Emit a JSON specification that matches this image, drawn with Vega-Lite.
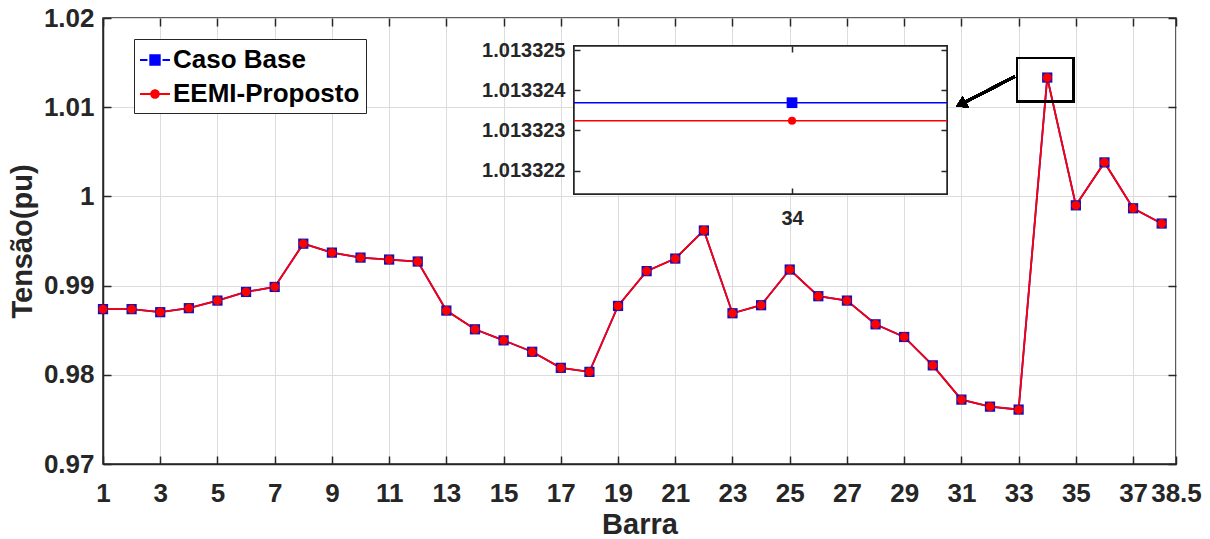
{
  "$schema": "https://vega.github.io/schema/vega-lite/v6.json",
  "width": 1073,
  "height": 446,
  "autosize": {"type": "none"},
  "padding": {"left": 103, "top": 18, "right": 34, "bottom": 75},
  "background": "white",
  "config": {
    "font": "Liberation Sans",
    "view": {"stroke": "#262626", "strokeWidth": 1.5},
    "axis": {
      "labelFont": "Liberation Sans",
      "labelFontWeight": "bold",
      "labelColor": "#262626",
      "titleFont": "Liberation Sans",
      "titleFontWeight": "bold",
      "titleColor": "#262626",
      "domainColor": "#262626",
      "domainWidth": 1.5,
      "tickColor": "#262626",
      "tickWidth": 1.5,
      "gridColor": "#dcdcdc",
      "gridWidth": 1,
      "labelOverlap": false,
      "labelFlush": false,
      "labelBound": false
    }
  },
  "datasets": {
    "t": [
      {"barra": 1, "serie": "Caso Base", "v": 0.98736},
      {"barra": 2, "serie": "Caso Base", "v": 0.98736},
      {"barra": 3, "serie": "Caso Base", "v": 0.98702},
      {"barra": 4, "serie": "Caso Base", "v": 0.98747},
      {"barra": 5, "serie": "Caso Base", "v": 0.98832},
      {"barra": 6, "serie": "Caso Base", "v": 0.98929},
      {"barra": 7, "serie": "Caso Base", "v": 0.98985},
      {"barra": 8, "serie": "Caso Base", "v": 0.9947},
      {"barra": 9, "serie": "Caso Base", "v": 0.9937},
      {"barra": 10, "serie": "Caso Base", "v": 0.99314},
      {"barra": 11, "serie": "Caso Base", "v": 0.99292},
      {"barra": 12, "serie": "Caso Base", "v": 0.9927},
      {"barra": 13, "serie": "Caso Base", "v": 0.9872},
      {"barra": 14, "serie": "Caso Base", "v": 0.9851},
      {"barra": 15, "serie": "Caso Base", "v": 0.98386},
      {"barra": 16, "serie": "Caso Base", "v": 0.98258},
      {"barra": 17, "serie": "Caso Base", "v": 0.98078},
      {"barra": 18, "serie": "Caso Base", "v": 0.98033},
      {"barra": 19, "serie": "Caso Base", "v": 0.98772},
      {"barra": 20, "serie": "Caso Base", "v": 0.99162},
      {"barra": 21, "serie": "Caso Base", "v": 0.99303},
      {"barra": 22, "serie": "Caso Base", "v": 0.99618},
      {"barra": 23, "serie": "Caso Base", "v": 0.9869},
      {"barra": 24, "serie": "Caso Base", "v": 0.9878},
      {"barra": 25, "serie": "Caso Base", "v": 0.9918},
      {"barra": 26, "serie": "Caso Base", "v": 0.98881},
      {"barra": 27, "serie": "Caso Base", "v": 0.98832},
      {"barra": 28, "serie": "Caso Base", "v": 0.98566},
      {"barra": 29, "serie": "Caso Base", "v": 0.98424},
      {"barra": 30, "serie": "Caso Base", "v": 0.98106},
      {"barra": 31, "serie": "Caso Base", "v": 0.97722},
      {"barra": 32, "serie": "Caso Base", "v": 0.97643},
      {"barra": 33, "serie": "Caso Base", "v": 0.9761},
      {"barra": 34, "serie": "Caso Base", "v": 1.01332369},
      {"barra": 35, "serie": "Caso Base", "v": 0.999},
      {"barra": 36, "serie": "Caso Base", "v": 1.00381},
      {"barra": 37, "serie": "Caso Base", "v": 0.99867},
      {"barra": 38, "serie": "Caso Base", "v": 0.99696},
      {"barra": 1, "serie": "EEMI-Proposto", "v": 0.98736},
      {"barra": 2, "serie": "EEMI-Proposto", "v": 0.98736},
      {"barra": 3, "serie": "EEMI-Proposto", "v": 0.98702},
      {"barra": 4, "serie": "EEMI-Proposto", "v": 0.98747},
      {"barra": 5, "serie": "EEMI-Proposto", "v": 0.98832},
      {"barra": 6, "serie": "EEMI-Proposto", "v": 0.98929},
      {"barra": 7, "serie": "EEMI-Proposto", "v": 0.98985},
      {"barra": 8, "serie": "EEMI-Proposto", "v": 0.9947},
      {"barra": 9, "serie": "EEMI-Proposto", "v": 0.9937},
      {"barra": 10, "serie": "EEMI-Proposto", "v": 0.99314},
      {"barra": 11, "serie": "EEMI-Proposto", "v": 0.99292},
      {"barra": 12, "serie": "EEMI-Proposto", "v": 0.9927},
      {"barra": 13, "serie": "EEMI-Proposto", "v": 0.9872},
      {"barra": 14, "serie": "EEMI-Proposto", "v": 0.9851},
      {"barra": 15, "serie": "EEMI-Proposto", "v": 0.98386},
      {"barra": 16, "serie": "EEMI-Proposto", "v": 0.98258},
      {"barra": 17, "serie": "EEMI-Proposto", "v": 0.98078},
      {"barra": 18, "serie": "EEMI-Proposto", "v": 0.98033},
      {"barra": 19, "serie": "EEMI-Proposto", "v": 0.98772},
      {"barra": 20, "serie": "EEMI-Proposto", "v": 0.99162},
      {"barra": 21, "serie": "EEMI-Proposto", "v": 0.99303},
      {"barra": 22, "serie": "EEMI-Proposto", "v": 0.99618},
      {"barra": 23, "serie": "EEMI-Proposto", "v": 0.9869},
      {"barra": 24, "serie": "EEMI-Proposto", "v": 0.9878},
      {"barra": 25, "serie": "EEMI-Proposto", "v": 0.9918},
      {"barra": 26, "serie": "EEMI-Proposto", "v": 0.98881},
      {"barra": 27, "serie": "EEMI-Proposto", "v": 0.98832},
      {"barra": 28, "serie": "EEMI-Proposto", "v": 0.98566},
      {"barra": 29, "serie": "EEMI-Proposto", "v": 0.98424},
      {"barra": 30, "serie": "EEMI-Proposto", "v": 0.98106},
      {"barra": 31, "serie": "EEMI-Proposto", "v": 0.97722},
      {"barra": 32, "serie": "EEMI-Proposto", "v": 0.97643},
      {"barra": 33, "serie": "EEMI-Proposto", "v": 0.9761},
      {"barra": 34, "serie": "EEMI-Proposto", "v": 1.01332324},
      {"barra": 35, "serie": "EEMI-Proposto", "v": 0.999},
      {"barra": 36, "serie": "EEMI-Proposto", "v": 1.00381},
      {"barra": 37, "serie": "EEMI-Proposto", "v": 0.99867},
      {"barra": 38, "serie": "EEMI-Proposto", "v": 0.99696}
    ]
  },
  "data": {"name": "t"},
  "layer": [
    {
      "layer": [
        {
          "mark": {"type": "line", "strokeWidth": 1.8},
          "encoding": {
            "x": {
              "field": "barra", "type": "quantitative",
              "scale": {"domain": [1, 38.5], "nice": false, "zero": false},
              "axis": {
                "orient": "bottom",
                "values": [1, 3, 5, 7, 9, 11, 13, 15, 17, 19, 21, 23, 25, 27, 29, 31, 33, 35, 37, 38.5],
                "labelExpr": "format(datum.value, '~g')",
                "labelFontSize": 26,
                "labelPadding": 24,
                "tickSize": -8,
                "grid": true,
                "domain": true,
                "title": "Barra",
                "titleFontSize": 29,
                "titlePadding": 4
              }
            },
            "y": {
              "field": "v", "type": "quantitative",
              "scale": {"domain": [0.97, 1.02], "nice": false, "zero": false},
              "axis": {
                "orient": "left",
                "values": [0.97, 0.98, 0.99, 1, 1.01, 1.02],
                "format": "~g",
                "labelFontSize": 26,
                "labelPadding": 17,
                "tickSize": -8,
                "grid": true,
                "domain": true,
                "title": "Tensão(pu)",
                "titleFontSize": 29,
                "titlePadding": 6
              }
            },
            "color": {
              "field": "serie", "type": "nominal",
              "scale": {"domain": ["Caso Base", "EEMI-Proposto"], "range": ["#0000ff", "#ff0000"]},
              "legend": {
                "title": null,
                "orient": "none",
                "legendX": 31,
                "legendY": 21,
                "direction": "vertical",
                "labelFont": "Liberation Sans",
                "labelFontSize": 26,
                "labelFontWeight": "bold",
                "labelColor": "black",
                "labelOffset": 3,
                "labelLimit": 400,
                "strokeColor": "#262626",
                "fillColor": "white",
                "padding": 6,
                "rowPadding": 6,
                "symbolSize": 900,
                "encode": {
                  "symbols": {
                    "update": {
                      "shape": {"signal": "datum.value === 'Caso Base' ? 'M-1,-0.06H-0.5V0.06H-1ZM0.5,-0.06H1V0.06H0.5ZM-0.38,-0.38H0.38V0.38H-0.38Z' : 'M-1,-0.06H-0.3V0.06H-1ZM0.3,-0.06H1V0.06H0.3ZM0.32,0A0.32,0.32,0,1,1,-0.32,0A0.32,0.32,0,1,1,0.32,0Z'"},
                      "fill": {"signal": "datum.value === 'Caso Base' ? '#0000ff' : '#ff0000'"},
                      "stroke": {"value": "transparent"},
                      "strokeWidth": {"value": 0},
                      "size": {"value": 900},
                      "opacity": {"value": 1}
                    }
                  }
                }
              }
            }
          }
        },
        {
          "transform": [{"filter": "datum.serie === 'Caso Base'"}],
          "mark": {"type": "point", "shape": "square", "filled": true, "size": 105, "color": "#1a10b0", "opacity": 1},
          "encoding": {
            "x": {
              "field": "barra", "type": "quantitative",
              "axis": {
                "orient": "top",
                "values": [1, 3, 5, 7, 9, 11, 13, 15, 17, 19, 21, 23, 25, 27, 29, 31, 33, 35, 37, 38.5],
                "labels": false, "tickSize": -8, "domain": false, "grid": false, "title": null
              }
            },
            "y": {
              "field": "v", "type": "quantitative",
              "axis": {
                "orient": "right",
                "values": [0.97, 0.98, 0.99, 1, 1.01, 1.02],
                "labels": false, "tickSize": -8, "domain": false, "grid": false, "title": null
              }
            }
          }
        },
        {
          "transform": [{"filter": "datum.serie === 'EEMI-Proposto'"}],
          "mark": {"type": "point", "shape": "circle", "filled": true, "size": 78, "color": "#ff0000", "opacity": 1},
          "encoding": {
            "x": {"field": "barra", "type": "quantitative", "axis": null},
            "y": {"field": "v", "type": "quantitative", "axis": null}
          }
        },
        {
          "mark": {"type": "rect", "fill": "white", "fillOpacity": 0, "stroke": "black", "strokeWidth": 1.5},
          "encoding": {
            "x": {"datum": 32.94, "type": "quantitative", "axis": null},
            "x2": {"datum": 34.92},
            "y": {"datum": 1.01064, "type": "quantitative", "axis": null},
            "y2": {"datum": 1.01555}
          }
        },
        {
          "mark": {"type": "rule", "color": "black", "strokeWidth": 2.5},
          "encoding": {
            "x": {"datum": 32.86, "type": "quantitative", "axis": null},
            "x2": {"datum": 30.98},
            "y": {"datum": 1.01344, "type": "quantitative", "axis": null},
            "y2": {"datum": 1.010325}
          }
        },
        {
          "mark": {"type": "point", "shape": "triangle-up", "filled": true, "size": 150, "color": "black", "opacity": 1, "angle": 243},
          "encoding": {
            "x": {"datum": 30.98, "type": "quantitative", "axis": null},
            "y": {"datum": 1.010325, "type": "quantitative", "axis": null}
          }
        }
      ],
      "resolve": {"axis": {"x": "independent", "y": "independent"}}
    },
    {
      "layer": [
        {
          "mark": {"type": "rect", "fill": "white", "stroke": "#262626", "strokeWidth": 1.5},
          "encoding": {
            "x": {
              "datum": 33.4155, "type": "quantitative",
              "scale": {"domain": [33.4155, 34.4155], "range": [471, 844], "nice": false, "zero": false},
              "axis": {
                "orient": "bottom", "offset": -270, "values": [34], "format": "d",
                "labelFontSize": 20, "labelPadding": 20, "tickSize": -6,
                "domain": false, "grid": false, "title": null, "zindex": 1
              }
            },
            "x2": {"datum": 34.4155},
            "y": {
              "datum": 1.01332142, "type": "quantitative",
              "scale": {"domain": [1.01332142, 1.0133251], "range": [176, 28], "nice": false, "zero": false},
              "axis": {
                "orient": "left", "offset": -471,
                "values": [1.013322, 1.013323, 1.013324, 1.013325], "format": ".6f",
                "labelFontSize": 20, "labelPadding": 15, "tickSize": -6,
                "domain": false, "grid": false, "title": null, "zindex": 1
              }
            },
            "y2": {"datum": 1.0133251}
          }
        },
        {
          "transform": [{"filter": "datum.barra === 34 && datum.serie === 'Caso Base'"}],
          "mark": {"type": "rule", "color": "#0000ff", "strokeWidth": 1.5},
          "encoding": {
            "x": {
              "datum": 33.4155, "type": "quantitative",
              "axis": {
                "orient": "top", "offset": -28, "values": [34],
                "labels": false, "tickSize": -6, "domain": false, "grid": false, "title": null, "zindex": 1
              }
            },
            "x2": {"datum": 34.4155},
            "y": {
              "field": "v", "type": "quantitative",
              "axis": {
                "orient": "right", "offset": -229,
                "values": [1.013322, 1.013323, 1.013324, 1.013325],
                "labels": false, "tickSize": -6, "domain": false, "grid": false, "title": null, "zindex": 1
              }
            }
          }
        },
        {
          "transform": [{"filter": "datum.barra === 34 && datum.serie === 'EEMI-Proposto'"}],
          "mark": {"type": "rule", "color": "#ff0000", "strokeWidth": 1.5},
          "encoding": {
            "x": {"datum": 33.4155, "type": "quantitative", "axis": null},
            "x2": {"datum": 34.4155},
            "y": {"field": "v", "type": "quantitative", "axis": null}
          }
        },
        {
          "transform": [{"filter": "datum.barra === 34 && datum.serie === 'Caso Base'"}],
          "mark": {"type": "point", "shape": "square", "filled": true, "size": 115, "color": "#0000ff", "opacity": 1},
          "encoding": {
            "x": {"field": "barra", "type": "quantitative", "axis": null},
            "y": {"field": "v", "type": "quantitative", "axis": null}
          }
        },
        {
          "transform": [{"filter": "datum.barra === 34 && datum.serie === 'EEMI-Proposto'"}],
          "mark": {"type": "point", "shape": "circle", "filled": true, "size": 65, "color": "#ff0000", "opacity": 1},
          "encoding": {
            "x": {"field": "barra", "type": "quantitative", "axis": null},
            "y": {"field": "v", "type": "quantitative", "axis": null}
          }
        }
      ],
      "resolve": {"axis": {"x": "independent", "y": "independent"}}
    }
  ],
  "resolve": {
    "scale": {"x": "independent", "y": "independent"},
    "axis": {"x": "independent", "y": "independent"}
  }
}
